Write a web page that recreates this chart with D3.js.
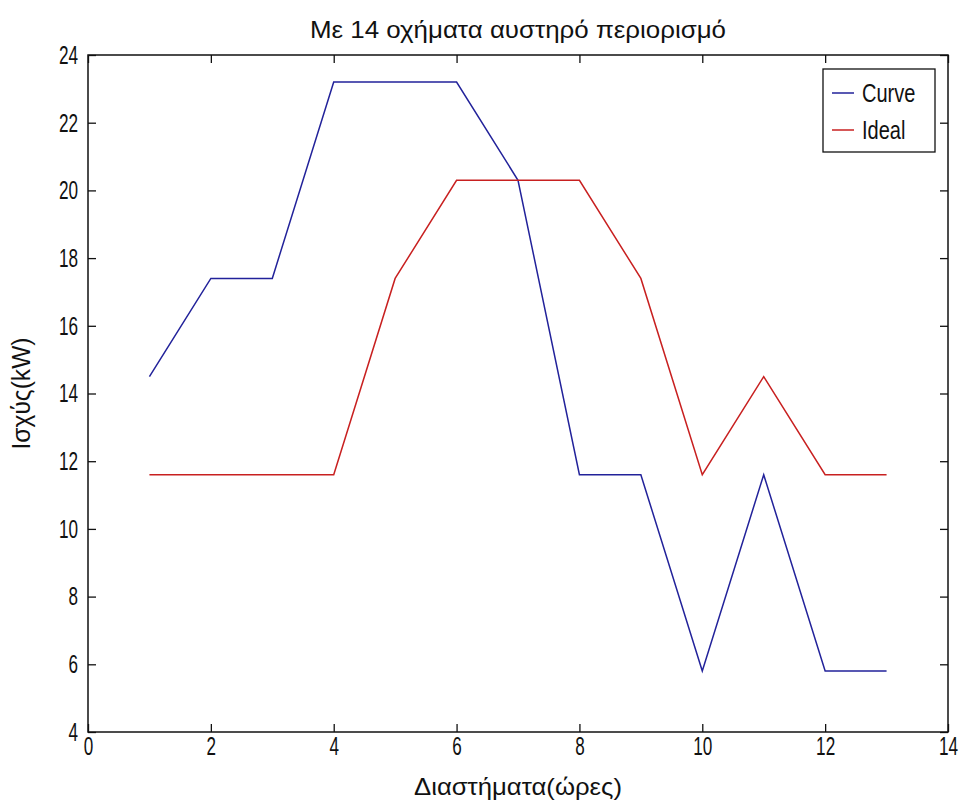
<!DOCTYPE html>
<html>
<head>
<meta charset="utf-8">
<script src="https://cdn.jsdelivr.net/npm/d3@7"></script>
<style>
  html, body { margin: 0; padding: 0; background: #fff; }
  svg text { font-family: "Liberation Sans", Arial, sans-serif; fill: #111; }
</style>
</head>
<body>
<svg id="chart" width="963" height="805"></svg>
<script>
// Interval index (hours)
const hours = [1, 2, 3, 4, 5, 6, 7, 8, 9, 10, 11, 12, 13];
// Power per interval, kW
const curveValues = [14.5, 17.4, 17.4, 23.2, 23.2, 23.2, 20.3, 11.6, 11.6, 5.8, 11.6, 5.8, 5.8];
const idealValues = [11.6, 11.6, 11.6, 11.6, 17.4, 20.3, 20.3, 20.3, 17.4, 11.6, 14.5, 11.6, 11.6];
const xTicks = [0, 2, 4, 6, 8, 10, 12, 14];
const yTicks = [4, 6, 8, 10, 12, 14, 16, 18, 20, 22, 24];
const seriesNames = ["Curve", "Ideal"];
const seriesColors = ["#22229a", "#c82020"];

const titleText = "Με 14 οχήματα αυστηρό περιορισμό";
const xLabelText = "Διαστήματα(ώρες)";
const yLabelText = "Ισχύς(kW)";

const svg = d3.select("#chart");
const plotL = 88, plotR = 948, plotT = 55, plotB = 732;

const x = d3.scaleLinear().domain([0, 14]).range([plotL, plotR]);
const y = d3.scaleLinear().domain([4, 24]).range([plotB, plotT]);

const tickLen = 8;
const fontSize = 26;
const narrow = 0.66;

// Squeeze glyphs horizontally in place, for a condensed look
function condense(sel, k) {
  sel.each(function () {
    const w = this.getComputedTextLength();
    this.setAttribute("textLength", (w * k).toFixed(1));
    this.setAttribute("lengthAdjust", "spacingAndGlyphs");
  });
}
function fitWidth(sel, w) {
  sel.attr("textLength", w).attr("lengthAdjust", "spacingAndGlyphs");
}

// Axes: ticks drawn inward on all four sides
const axisBottom = d3.axisBottom(x).tickValues(xTicks).tickSize(-tickLen).tickPadding(5).tickFormat(d3.format("d"));
const axisTop = d3.axisTop(x).tickValues(xTicks).tickSize(-tickLen).tickFormat("");
const axisLeft = d3.axisLeft(y).tickValues(yTicks).tickSize(-tickLen).tickPadding(tickLen + 2).tickFormat(d3.format("d"));
const axisRight = d3.axisRight(y).tickValues(yTicks).tickSize(-tickLen).tickFormat("");

function styleAxis(g) {
  g.attr("font-size", fontSize);
  g.selectAll(".domain").remove();
  g.selectAll(".tick line").attr("stroke", "#111").attr("stroke-width", 1.3);
  g.selectAll(".tick text").attr("font-size", fontSize).attr("fill", "#111")
    .style("font-family", "'Liberation Sans', Arial, sans-serif");
}

svg.append("g").attr("transform", `translate(0,${plotB})`).call(axisBottom).call(styleAxis)
  .selectAll(".tick text").call(condense, narrow);
svg.append("g").attr("transform", `translate(0,${plotT})`).call(axisTop).call(styleAxis);
svg.append("g").attr("transform", `translate(${plotL},0)`).call(axisLeft).call(styleAxis)
  .selectAll(".tick text").call(condense, narrow);
svg.append("g").attr("transform", `translate(${plotR},0)`).call(axisRight).call(styleAxis);

// Plot frame
svg.append("rect")
  .attr("x", plotL).attr("y", plotT)
  .attr("width", plotR - plotL).attr("height", plotB - plotT)
  .attr("fill", "none").attr("stroke", "#111").attr("stroke-width", 1.5);

// Series lines
const line = d3.line().x((d, i) => x(hours[i])).y(d => y(d));
[curveValues, idealValues].forEach((vals, k) => {
  svg.append("path")
    .datum(vals)
    .attr("d", line)
    .attr("fill", "none")
    .attr("stroke", seriesColors[k])
    .attr("stroke-width", 1.5)
    .attr("stroke-linejoin", "miter");
});

// Legend
const lg = svg.append("g");
const lgX = 823, lgY = 69, lgW = 112, lgH = 83;
lg.append("rect").attr("x", lgX).attr("y", lgY).attr("width", lgW).attr("height", lgH)
  .attr("fill", "#fff").attr("stroke", "#111").attr("stroke-width", 1.3);
seriesNames.forEach((name, k) => {
  const cy = lgY + 24 + k * 37;
  lg.append("line").attr("x1", lgX + 9).attr("x2", lgX + 31).attr("y1", cy).attr("y2", cy)
    .attr("stroke", seriesColors[k]).attr("stroke-width", 1.5);
  lg.append("text").attr("x", lgX + 39).attr("y", cy).attr("dy", "0.36em")
    .attr("font-size", 25).text(name).call(condense, 0.8);
});

// Title and axis labels
svg.append("text").attr("x", (plotL + plotR) / 2).attr("y", 38)
  .attr("text-anchor", "middle").attr("font-size", 24).text(titleText)
  .call(fitWidth, 416);
svg.append("text").attr("x", (plotL + plotR) / 2).attr("y", 795)
  .attr("text-anchor", "middle").attr("font-size", 24).text(xLabelText)
  .call(fitWidth, 208);
svg.append("text").attr("transform", `translate(30,${(plotT + plotB) / 2}) rotate(-90)`)
  .attr("text-anchor", "middle").attr("font-size", 25).text(yLabelText)
  .call(fitWidth, 112);
</script>
</body>
</html>
